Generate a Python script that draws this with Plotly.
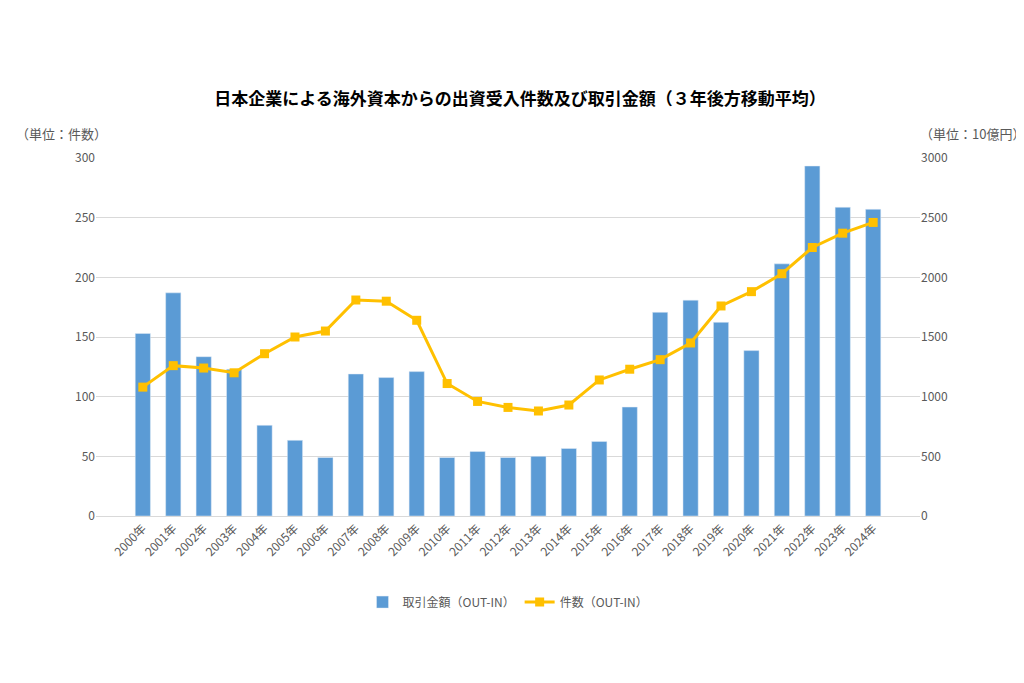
import plotly.graph_objects as go

years = [f"{y}年" for y in range(2000, 2025)]

# 取引金額 (10億円, right axis)
amount = [1530, 1870, 1335, 1230, 760, 634, 490, 1190, 1160, 1210, 490, 540, 490, 500,
          566, 625, 913, 1707, 1809, 1623, 1386, 2113, 2933, 2587, 2570]

# 件数 (left axis)
count = [108, 126, 124, 120, 136, 150, 155, 181, 180, 164, 111, 96, 91, 88, 93, 114,
         123, 131, 145, 176, 188, 203, 225, 237, 246]

font_jp = "Noto Sans CJK JP"

fig = go.Figure()
# bars on the base axis (right side), line on the overlaying axis so it draws on top
fig.add_trace(go.Bar(x=years, y=amount, name="取引金額（OUT-IN）", yaxis="y",
                     marker_color="#5B9BD5"))
fig.add_trace(go.Scatter(x=years, y=count, name="件数（OUT-IN）", mode="lines+markers",
                         yaxis="y2", line=dict(color="#FFC000", width=3),
                         marker=dict(symbol="square", size=9, color="#FFC000")))

fig.update_layout(
    width=1024, height=683,
    paper_bgcolor="white", plot_bgcolor="white",
    font=dict(family=font_jp, color="#595959", size=12),
    title=dict(text="<b>日本企業による海外資本からの出資受入件数及び取引金額（３年後方移動平均）</b>",
               x=0.5, y=0.875, xanchor="center", font=dict(size=17, color="#000000")),
    margin=dict(l=88, r=112, t=150, b=175),
    xaxis=dict(tickangle=-45, showline=True, linecolor="#D9D9D9", ticks=""),
    yaxis=dict(range=[0, 3000], dtick=500, side="right", gridcolor="#D9D9D9",
               zeroline=False),
    yaxis2=dict(range=[0, 300], dtick=50, overlaying="y", side="left",
                showgrid=False, zeroline=False),
    legend=dict(orientation="h", x=0.5, xanchor="center", y=-0.2, yanchor="top",
                traceorder="normal", font=dict(size=12)),
    bargap=0.5,
    annotations=[
        dict(text="（単位：件数）", xref="paper", yref="paper", x=-0.1, y=1.035,
             xanchor="left", yanchor="bottom", showarrow=False, font=dict(size=13)),
        dict(text="（単位：10億円）", xref="paper", yref="paper", x=1.13, y=1.035,
             xanchor="right", yanchor="bottom", showarrow=False, font=dict(size=13)),
    ],
)

fig.write_html("out.html")
